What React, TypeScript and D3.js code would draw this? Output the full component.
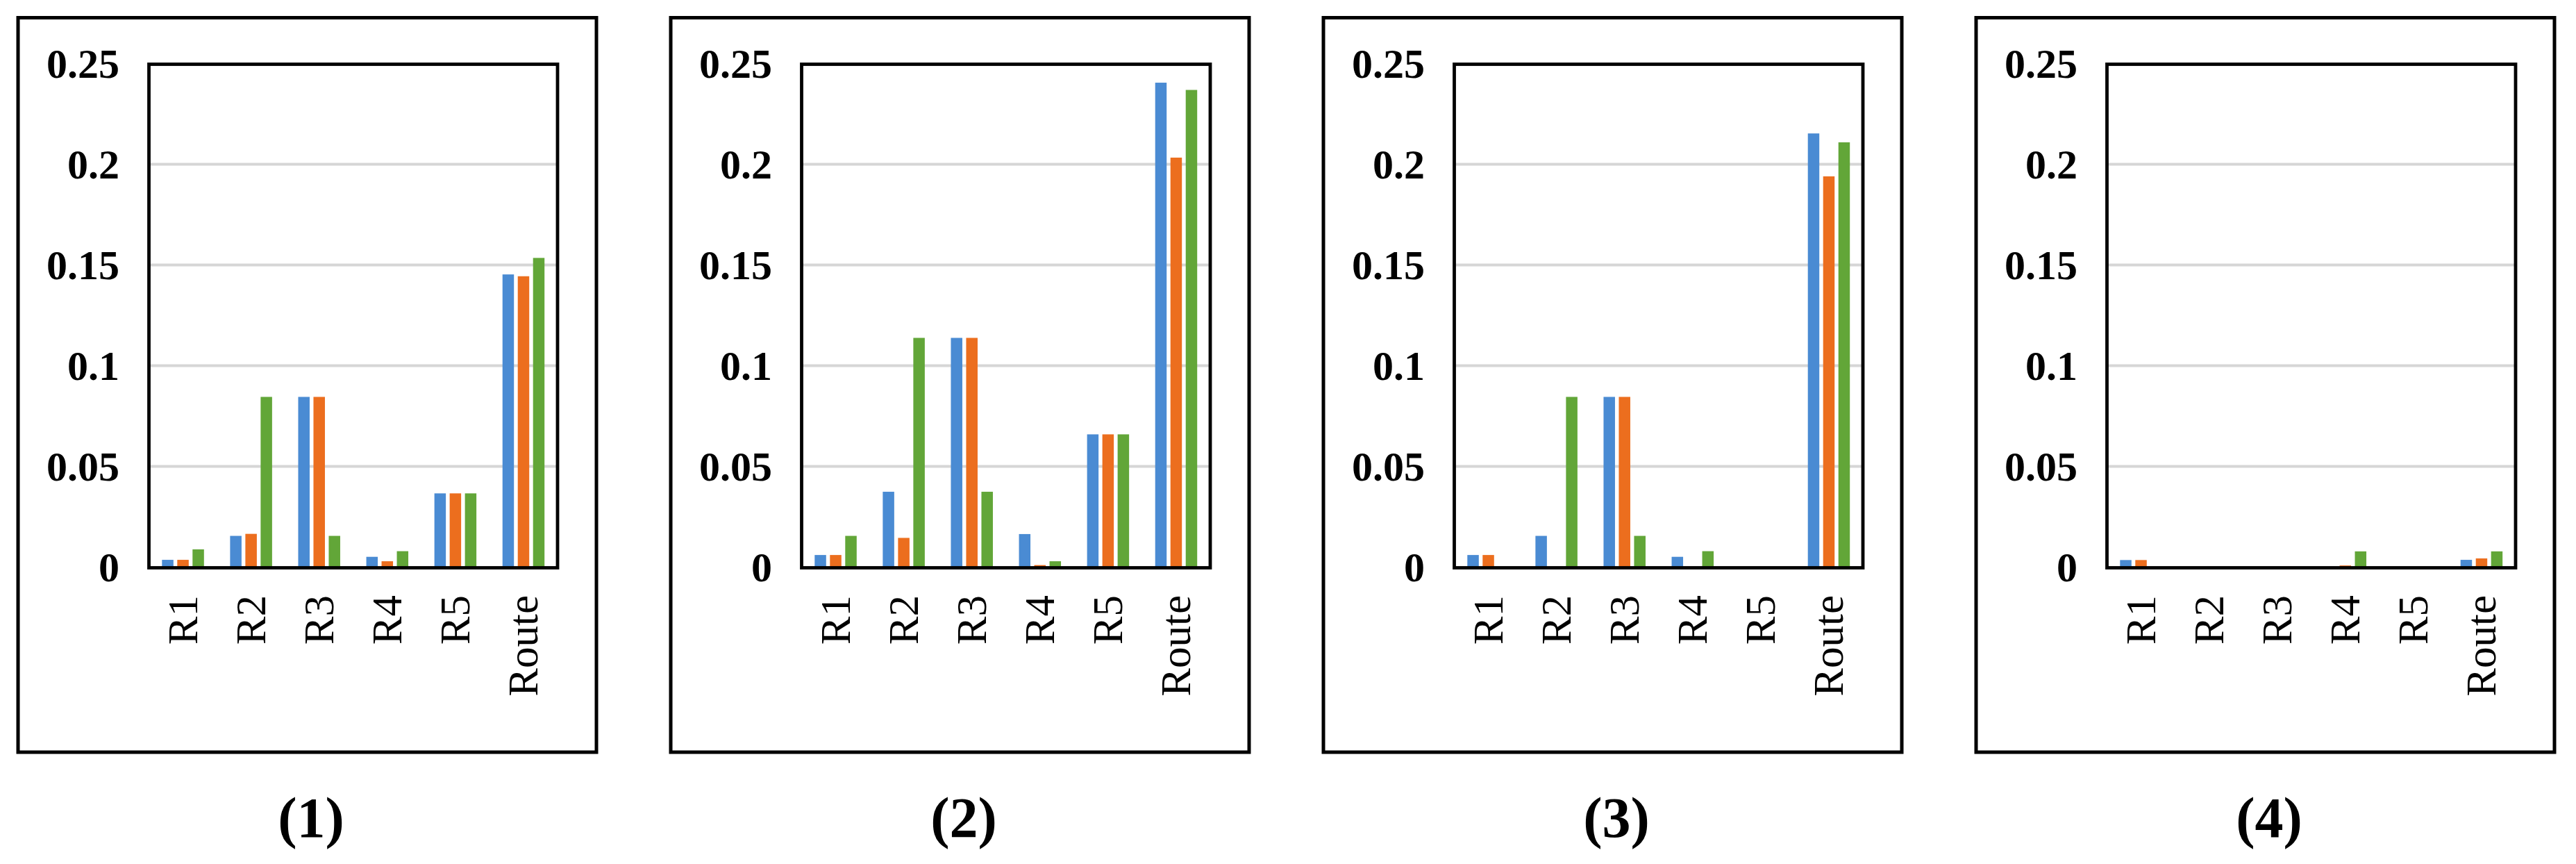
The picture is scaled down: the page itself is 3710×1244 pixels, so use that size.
import React from "react";
import * as d3 from "d3";

const categories = ["R1", "R2", "R3", "R4", "R5", "Route"];
const yTicks = [0, 0.05, 0.1, 0.15, 0.2, 0.25];
const yTickLabels = ["0", "0.05", "0.1", "0.15", "0.2", "0.25"];
const panelLabels = ["(1)", "(2)", "(3)", "(4)"];
const seriesNames = ["s1", "s2", "s3"];
const seriesColors = ["#4A8BD3", "#EC6E1E", "#62A638"];

const panel1Blue = [0.0036, 0.0155, 0.0845, 0.0051, 0.0366, 0.1453];
const panel1Orange = [0.0036, 0.0165, 0.0845, 0.0029, 0.0366, 0.1444];
const panel1Green = [0.0088, 0.0845, 0.0155, 0.0079, 0.0366, 0.1535];

const panel2Blue = [0.006, 0.0374, 0.1138, 0.0164, 0.0659, 0.2405];
const panel2Orange = [0.006, 0.0145, 0.1138, 0.001, 0.0659, 0.2033];
const panel2Green = [0.0155, 0.1138, 0.0374, 0.0029, 0.0659, 0.2369];

const panel3Blue = [0.006, 0.0155, 0.0845, 0.0051, 0, 0.2153];
const panel3Orange = [0.006, 0, 0.0845, 0, 0, 0.194];
const panel3Green = [0, 0.0845, 0.0155, 0.0079, 0, 0.2109];

const panel4Blue = [0.0035, 0, 0, 0, 0, 0.0036];
const panel4Orange = [0.0035, 0, 0, 0.0008, 0, 0.0043];
const panel4Green = [0, 0, 0, 0.0078, 0, 0.0078];

const panels = [
  [panel1Blue, panel1Orange, panel1Green],
  [panel2Blue, panel2Orange, panel2Green],
  [panel3Blue, panel3Orange, panel3Green],
  [panel4Blue, panel4Orange, panel4Green],
];

const W = 3710;
const H = 1244;
const PANEL_STEP = 940;
const FONT = "'Liberation Serif', 'Times New Roman', serif";

const plotLeft = 214.5;
const plotRight = 803;
const yTop = 91.5;
const yBottom = 816.5;

function Panel({ idx, data }: { idx: number; data: number[][] }) {
  const ox = idx * PANEL_STEP;
  const y = d3.scaleLinear().domain([0, 0.25]).range([yBottom, yTop]);
  const x = d3.scaleBand<string>().domain(categories).range([plotLeft, plotRight]).padding(0);
  const groupW = 60.5;
  const inner = d3
    .scaleBand<string>()
    .domain(seriesNames)
    .range([(x.bandwidth() - groupW) / 2, (x.bandwidth() + groupW) / 2])
    .paddingInner(0.25)
    .paddingOuter(0);

  return (
    <g transform={`translate(${ox},0)`}>
      {/* outer frame */}
      <rect x={26} y={25.5} width={833} height={1057.5} fill="none" stroke="#000" strokeWidth={5} />
      {/* gridlines */}
      {yTicks
        .filter((t) => t > 0 && t < 0.25)
        .map((t) => (
          <line key={t} x1={plotLeft} x2={plotRight} y1={y(t)} y2={y(t)} stroke="#D6D6D6" strokeWidth={4} />
        ))}
      {/* bars */}
      {data.map((series, si) =>
        series.map((v, ci) =>
          v > 0 ? (
            <rect
              key={`${si}-${ci}`}
              x={(x(categories[ci]) as number) + (inner(seriesNames[si]) as number)}
              y={y(v)}
              width={inner.bandwidth()}
              height={y(0) - y(v)}
              fill={seriesColors[si]}
            />
          ) : null
        )
      )}
      {/* plot frame */}
      <rect
        x={plotLeft}
        y={y(0.25) + 1}
        width={plotRight - plotLeft}
        height={y(0) - y(0.25)}
        fill="none"
        stroke="#000"
        strokeWidth={4.8}
      />
      {/* y tick labels */}
      {yTicks.map((t, i) => (
        <text
          key={t}
          x={172}
          y={y(t)}
          dy="0.34em"
          textAnchor="end"
          fontFamily={FONT}
          fontWeight="bold"
          fontSize={60}
          fill="#000"
        >
          {yTickLabels[i]}
        </text>
      ))}
      {/* category labels */}
      {categories.map((c) => {
        const cx = (x(c) as number) + x.bandwidth() / 2;
        return (
          <text
            key={c}
            transform={`translate(${cx},857) rotate(-90)`}
            dy="0.33em"
            textAnchor="end"
            fontFamily={FONT}
            fontSize={61}
            fill="#000"
          >
            {c}
          </text>
        );
      })}
      {/* panel label */}
      <text
        x={448}
        y={1205}
        textAnchor="middle"
        fontFamily={FONT}
        fontWeight="bold"
        fontSize={82}
        fill="#000"
      >
        {panelLabels[idx]}
      </text>
    </g>
  );
}

export default function App() {
  return (
    <svg
      width={W}
      height={H}
      viewBox={`0 0 ${W} ${H}`}
      style={{ position: "absolute", left: 0, top: 0, display: "block", background: "#fff" }}
    >
      <rect x={0} y={0} width={W} height={H} fill="#fff" />
      {panels.map((d, i) => (
        <Panel key={i} idx={i} data={d} />
      ))}
    </svg>
  );
}
